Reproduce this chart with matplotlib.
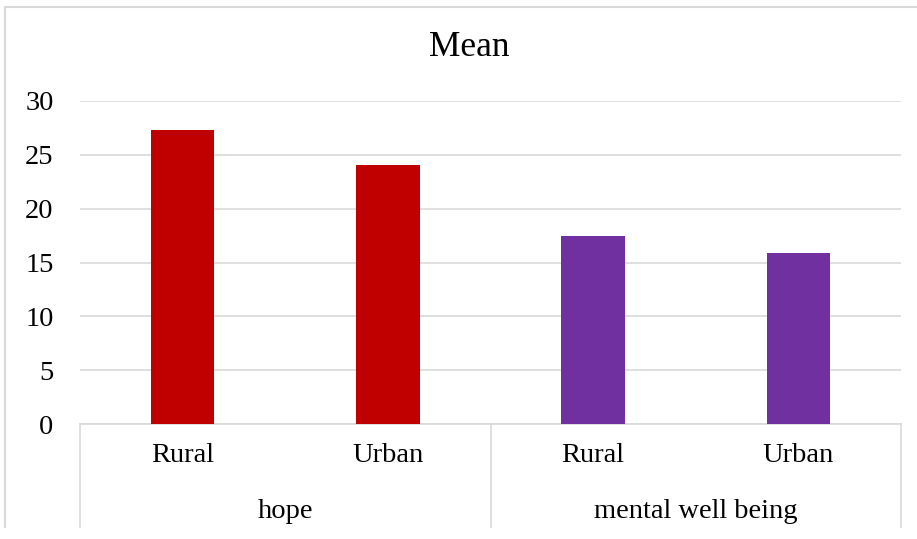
import matplotlib
matplotlib.use("Agg")
import matplotlib.pyplot as plt
from matplotlib.lines import Line2D
import numpy as np

# data
groups = ["hope", "mental well being"]
categories = ["Rural", "Urban", "Rural", "Urban"]
means = [27.3, 24.05, 17.45, 15.9]
bar_colors = ["#C00000", "#C00000", "#7030A0", "#7030A0"]
yticks = [0, 5, 10, 15, 20, 25, 30]

plt.rcParams["font.family"] = ["Liberation Serif", "DejaVu Serif"]

W, H = 917, 539
fig = plt.figure(figsize=(W / 100, H / 100), dpi=100)
fig.patch.set_facecolor("white")

# plot area in pixels: x 80..901, y 101..424
x0, x1, y0, y1 = 80, 901, 101, 424
ax = fig.add_axes([x0 / W, (H - y1) / H, (x1 - x0) / W, (y1 - y0) / H])
x = np.arange(len(categories))
ax.bar(x, means, width=0.31, color=bar_colors, zorder=3)

ax.set_xlim(-0.5, len(categories) - 0.5)
ax.set_ylim(0, 30)
ax.set_yticks(yticks)
ax.set_yticklabels([str(t) for t in yticks], fontsize=20.5)
ax.tick_params(axis="y", length=0, pad=19)
ax.set_xticks(x)
ax.set_xticklabels(categories, fontsize=20.5)
ax.tick_params(axis="x", length=0, pad=14)
ax.yaxis.grid(True, color="#D9D9D9", linewidth=1.2, zorder=0)
for side in ["top", "right", "left"]:
    ax.spines[side].set_visible(False)
ax.spines["bottom"].set_color("#D9D9D9")
ax.spines["bottom"].set_linewidth(1.2)

# group labels and separators
for i, g in enumerate(groups):
    fig.text((x0 + (x1 - x0) * (2 * i + 1) / 4) / W, 1 - 512 / H, g,
             ha="center", va="center", fontsize=20.5)
for px in [x0, (x0 + x1) / 2, x1]:
    fig.add_artist(Line2D([px / W, px / W], [1 - y1 / H, 1 - 527 / H],
                          color="#D9D9D9", linewidth=1.2))

# chart frame (partially cropped)
fig.add_artist(Line2D([5 / W, 5 / W], [1 - 7 / H, 1 - 527 / H], color="#D9D9D9", linewidth=1.5))
fig.add_artist(Line2D([5 / W, 1.0], [1 - 7 / H, 1 - 7 / H], color="#D9D9D9", linewidth=1.5))

fig.text(469 / W, 1 - 48 / H, "Mean", ha="center", va="center", fontsize=25.5)

fig.savefig("out.png", dpi=100, facecolor="white")
